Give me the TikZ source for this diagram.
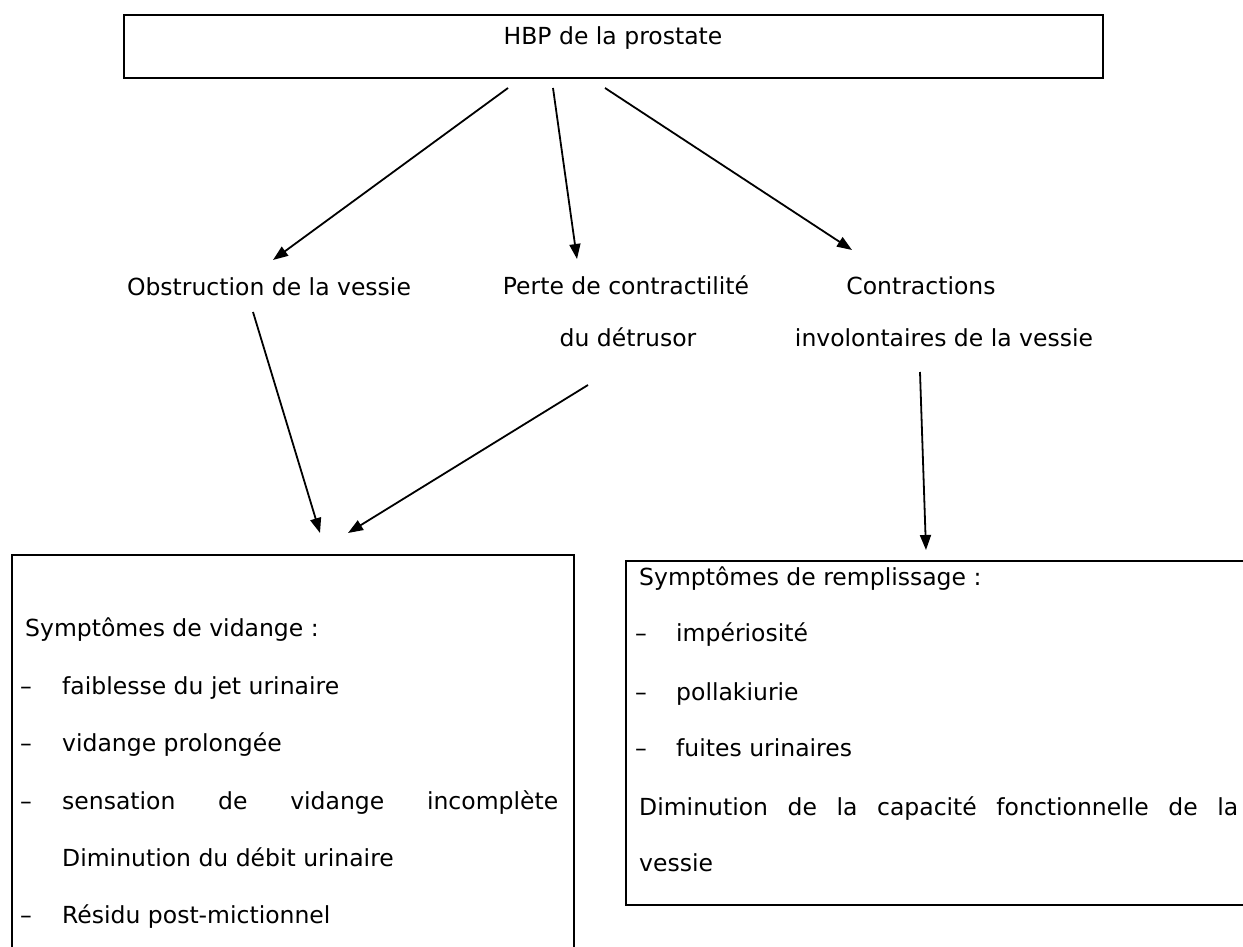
\documentclass[tikz,border=0pt]{standalone}
\usepackage{fontspec}
\setmainfont{DejaVu Sans}
\usetikzlibrary{arrows.meta}
\begin{document}
\begin{tikzpicture}[x=1pt,y=-1pt,
  txt/.style={font=\fontsize{23.5}{28}\selectfont, inner sep=0pt, anchor=base west},
  ctxt/.style={font=\fontsize{23.5}{28}\selectfont, inner sep=0pt, anchor=base},
  frame/.style={draw, line width=2.1pt, inner sep=0pt, anchor=north west},
  arr/.style={line width=1.8pt, -{Triangle[length=15pt,width=11pt]}}]
\useasboundingbox (0,0) rectangle (1243,947);
% top box
\node[frame, minimum width=979pt, minimum height=63pt] (hbp) at (123,14) {};
\node[ctxt] (hbpt) at (613,45) {HBP de la prostate};
% middle labels
\node[ctxt] (obs) at (269,295) {Obstruction de la vessie};
\node[ctxt] (perte1) at (626,294) {Perte de contractilité};
\node[ctxt] (perte2) at (628,346) {du détrusor};
\node[ctxt] (contr1) at (921,294) {Contractions};
\node[ctxt] (contr2) at (944,346) {involontaires de la vessie};
% bottom boxes
\node[frame, minimum width=562pt, minimum height=450pt] (vid) at (11,554) {};
\node[frame, minimum width=700pt, minimum height=344pt] (rem) at (625,560) {};
% left box text
\node[txt] (v0) at (25,636) {Symptômes de vidange :};
\node[txt] (vd1) at (20,694) {–};
\node[txt] (v1) at (62,694) {faiblesse du jet urinaire};
\node[txt] (vd2) at (20,751) {–};
\node[txt] (v2) at (62,751) {vidange prolongée};
\node[txt] (vd3) at (20,809) {–};
\node[txt] (v3) at (62,809) {\makebox[496pt][s]{sensation de vidange incomplète}};
\node[txt] (v4) at (62,866) {Diminution du débit urinaire};
\node[txt] (vd5) at (20,923) {–};
\node[txt] (v5) at (62,923) {Résidu post-mictionnel};
% right box text
\node[txt] (r0) at (639,585) {Symptômes de remplissage :};
\node[txt] (rd1) at (635,641) {–};
\node[txt] (r1) at (676,641) {impériosité};
\node[txt] (rd2) at (635,700) {–};
\node[txt] (r2) at (676,700) {pollakiurie};
\node[txt] (rd3) at (635,756) {–};
\node[txt] (r3) at (676,756) {fuites urinaires};
\node[txt] (r4) at (639,815) {\makebox[599pt][s]{Diminution de la capacité fonctionnelle de la}};
\node[txt] (r5) at (639,871) {vessie};
% connector end points
\coordinate (s1) at (508,88);
\coordinate (e1) at (273,260);
\coordinate (s2) at (553,88);
\coordinate (e2) at (577,259);
\coordinate (s3) at (605,88);
\coordinate (e3) at (852,250);
\coordinate (s4) at (253,312);
\coordinate (e4) at (320,533);
\coordinate (s5) at (588,385);
\coordinate (e5) at (348,533);
\coordinate (s6) at (920,372);
\coordinate (e6) at (926,550);
\draw[arr] (s1) -- (e1);
\draw[arr] (s2) -- (e2);
\draw[arr] (s3) -- (e3);
\draw[arr] (s4) -- (e4);
\draw[arr] (s5) -- (e5);
\draw[arr] (s6) -- (e6);
\end{tikzpicture}
\end{document}
